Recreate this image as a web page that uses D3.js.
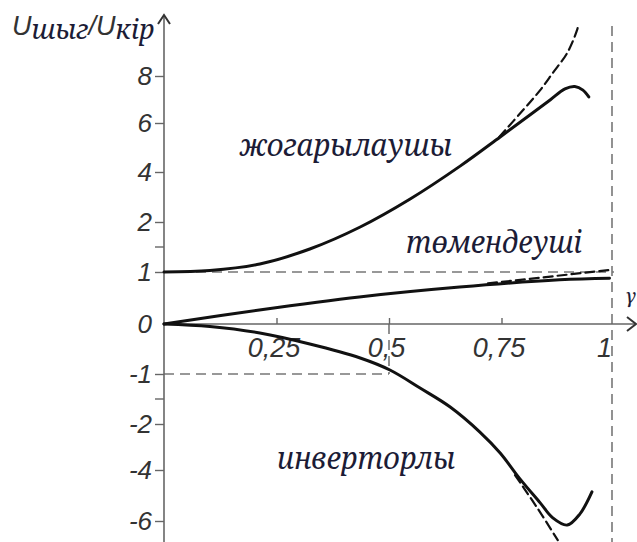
<!DOCTYPE html>
<html>
<head>
<meta charset="utf-8">
<script src="https://cdn.jsdelivr.net/npm/d3@7"></script>
<style>
  body { margin: 0; background: #fff; }
</style>
</head>
<body>
<div id="chart"></div>
<script>
// Data

// y axis labels (the axis is not linear, each label step has the same height)
var yTicks = [-6, -4, -2, -1, 0, 1, 2, 4, 6, 8];
var yMinor = [1.5, -1.5];
var xTicks = [0.25, 0.5, 0.75, 1];

// boost converter (жогарылаушы), real curve
var boostG = [0, 0.102, 0.213, 0.324, 0.436, 0.547, 0.658, 0.747, 0.813, 0.858, 0.891, 0.913, 0.931, 0.944];
var boostU = [1, 1.03, 1.16, 1.46, 1.9, 2.92, 4.24, 5.43, 6.34, 6.98, 7.45, 7.55, 7.40, 7.11];
// boost, ideal (dashed)
var boostIdG = [0.745, 0.798, 0.836, 0.864, 0.896, 0.918, 0.92];
var boostIdU = [5.43, 6.55, 7.40, 8.13, 8.98, 9.96, 10.13];

// buck converter (төмендеуші)
var buckG = [0, 0.212, 0.434, 0.657, 0.879, 0.99];
var buckU = [0, 0.27, 0.52, 0.71, 0.85, 0.88];
var buckIdG = [0.72, 0.99];
var buckIdU = [0.78, 1.04];

// inverting converter (инверторлы)
var invG = [0, 0.102, 0.213, 0.324, 0.436, 0.502, 0.569, 0.636, 0.702, 0.747, 0.791, 0.836, 0.864, 0.896, 0.924, 0.951];
var invU = [0, -0.05, -0.18, -0.40, -0.68, -0.92, -1.28, -1.66, -2.35, -3.26, -4.35, -5.29, -5.88, -6.16, -5.73, -4.86];
var invIdG = [0.78, 0.83, 0.875];
var invIdU = [-4.2, -5.5, -6.75];

var width = 637;
var height = 542;

var svg = d3.select("#chart")
    .append("svg")
    .attr("width", width)
    .attr("height", height);

var x = d3.scaleLinear().domain([0, 1]).range([164, 614]);
var y = d3.scaleLinear()
    .domain(yTicks)
    .range([521, 470, 424, 374, 324, 272, 222, 172, 123, 76]);

var grey = "#666";
var serif = "'Noto Serif', serif";
var sans = "'Liberation Sans', Arial, sans-serif";

// guide lines (dashed)
function guide(x1, y1, x2, y2) {
    svg.append("line")
        .attr("x1", x1).attr("y1", y1)
        .attr("x2", x2).attr("y2", y2)
        .attr("stroke", "#777")
        .attr("stroke-width", 1.6)
        .attr("stroke-dasharray", "10,6");
}
guide(x(0), y(1), x(1), y(1));
guide(x(0), y(-1), x(0.5), y(-1));
guide(x(0.5), y(0), x(0.5), y(-1));
guide(x(1) - 2, 26, x(1) - 2, height);

// x axis, ticks point up
var xAxis = svg.append("g")
    .attr("transform", "translate(0," + y(0) + ")")
    .call(d3.axisBottom(x)
        .tickValues(xTicks)
        .tickSizeInner(-6)
        .tickSizeOuter(0)
        .tickPadding(14)
        .tickFormat(function(d) { return String(d).replace(".", ","); }));
xAxis.select(".domain").remove();
xAxis.selectAll("line").attr("stroke", grey).attr("stroke-width", 1.4);
xAxis.selectAll(".tick").filter(function(d) { return d === 1; }).select("line").remove();
xAxis.selectAll("text")
    .attr("font-family", sans)
    .attr("font-style", "italic")
    .attr("fill", "#333")
    .attr("font-size", 27)
    .attr("dy", "0.71em")
    .attr("dx", function(d) { return d === 1 ? -10 : -3; });

// y axis, ticks point left
var yAxis = svg.append("g")
    .attr("transform", "translate(" + x(0) + ",0)")
    .call(d3.axisLeft(y)
        .tickValues(yTicks)
        .tickSizeInner(9)
        .tickSizeOuter(0)
        .tickPadding(3)
        .tickFormat(function(d) { return String(d); }));
yAxis.select(".domain").remove();
yAxis.selectAll("line").attr("stroke", grey).attr("stroke-width", 1.4);
yAxis.selectAll(".tick").filter(function(d) { return d === 0; }).select("line").remove();
yAxis.selectAll("text")
    .attr("font-family", sans)
    .attr("font-style", "italic")
    .attr("fill", "#333")
    .attr("font-size", 26);

svg.append("g")
    .selectAll("line")
    .data(yMinor)
    .enter()
    .append("line")
    .attr("x1", x(0) - 9).attr("x2", x(0))
    .attr("y1", function(d) { return y(d); })
    .attr("y2", function(d) { return y(d); })
    .attr("stroke", grey)
    .attr("stroke-width", 1.4);

// axis lines with open arrow heads
svg.append("line")
    .attr("x1", x(0)).attr("y1", height)
    .attr("x2", x(0)).attr("y2", 15)
    .attr("stroke", grey).attr("stroke-width", 1.6);
svg.append("path")
    .attr("d", "M" + (x(0) - 6) + ",24 L" + x(0) + ",15 L" + (x(0) + 6) + ",24")
    .attr("fill", "none").attr("stroke", "#333").attr("stroke-width", 2);

svg.append("line")
    .attr("x1", x(0)).attr("y1", y(0))
    .attr("x2", 636).attr("y2", y(0))
    .attr("stroke", grey).attr("stroke-width", 1.6);
svg.append("path")
    .attr("d", "M627," + (y(0) - 7) + " L636," + y(0) + " L627," + (y(0) + 7))
    .attr("fill", "none").attr("stroke", "#333").attr("stroke-width", 2);

// curves
var line = d3.line()
    .x(function(d) { return x(d[0]); })
    .y(function(d) { return y(d[1]); })
    .curve(d3.curveCatmullRom);

function curve(gs, us, dashed) {
    svg.append("path")
        .datum(d3.zip(gs, us))
        .attr("d", line)
        .attr("fill", "none")
        .attr("stroke", "#111")
        .attr("stroke-width", dashed ? 2.2 : 3)
        .attr("stroke-dasharray", dashed ? "9,5" : null)
        .attr("stroke-linecap", "round");
}

curve(boostIdG, boostIdU, true);
curve(buckIdG, buckIdU, true);
curve(invIdG, invIdU, true);
curve(boostG, boostU, false);
curve(buckG, buckU, false);
curve(invG, invU, false);

// labels
function label(px, py, len, txt) {
    svg.append("text")
        .attr("font-family", serif)
        .attr("font-style", "italic")
        .attr("fill", "#1c1c36")
        .attr("x", px).attr("y", py)
        .attr("font-size", 31)
        .attr("textLength", len)
        .attr("lengthAdjust", "spacingAndGlyphs")
        .text(txt);
}
label(240, 156, 212, "жогарылаушы");
label(406, 253, 176, "төмендеуші");
label(277, 469, 178, "инверторлы");

svg.append("text")
    .attr("font-family", serif)
    .attr("font-style", "italic")
    .attr("fill", "#1c1c36")
    .attr("x", 625).attr("y", 303)
    .attr("font-size", 20)
    .text("γ");

// y axis title
var title = svg.append("text")
    .attr("x", 12).attr("y", 35);
title.append("tspan")
    .attr("font-family", sans)
    .attr("font-style", "italic").attr("font-size", 27).attr("fill", "#333")
    .text("U");
title.append("tspan")
    .attr("font-family", serif)
    .attr("font-style", "italic").attr("font-size", 27).attr("fill", "#1c1c36")
    .attr("dy", 4)
    .text("шыг");
title.append("tspan")
    .attr("font-family", sans)
    .attr("font-style", "italic").attr("font-size", 27).attr("fill", "#333")
    .attr("dy", -4)
    .text("/U");
title.append("tspan")
    .attr("font-family", serif)
    .attr("font-style", "italic").attr("font-size", 27).attr("fill", "#1c1c36")
    .attr("dy", 4)
    .text("кір");
</script>
</body>
</html>
